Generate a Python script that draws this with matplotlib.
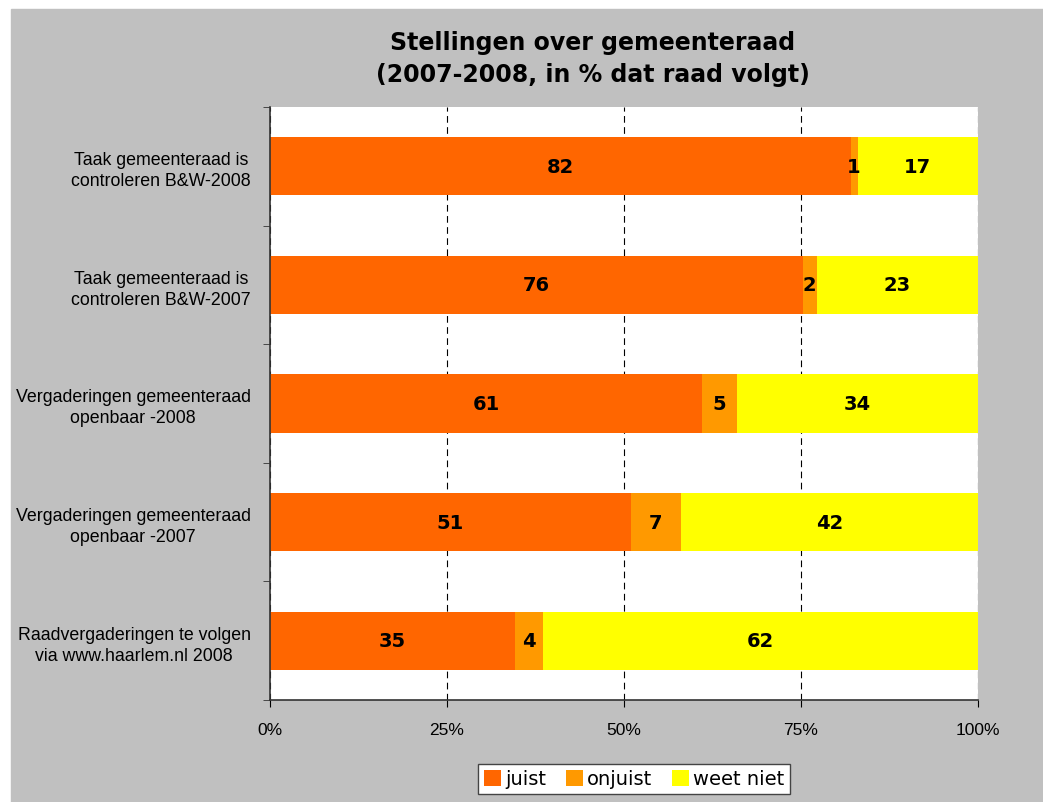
import matplotlib.pyplot as plt
import matplotlib.patches as mpatches
import matplotlib.ticker as ticker
import numpy as np

categories = [
    'Taak gemeenteraad is\ncontroleren B&W-2008',
    'Taak gemeenteraad is\ncontroleren B&W-2007',
    'Vergaderingen gemeenteraad\nopenbaar -2008',
    'Vergaderingen gemeenteraad\nopenbaar -2007',
    'Raadvergaderingen te volgen\nvia www.haarlem.nl 2008',
]
juist = [82, 76, 61, 51, 35]
onjuist = [1, 2, 5, 7, 4]
weet_niet = [17, 23, 34, 42, 62]

series = [('juist', juist, '#FF6600'),
          ('onjuist', onjuist, '#FF9900'),
          ('weet niet', weet_niet, '#FFFF00')]

gray = '#C0C0C0'

fig = plt.figure(figsize=(10.43, 8.03), dpi=100, facecolor='white')
# gray chart area (white strip on top and left as in the original)
fig.patches.append(mpatches.Rectangle((11 / 1043, 0), 1, 1 - 10 / 803,
                                      transform=fig.transFigure, color=gray, zorder=-5))

ax = fig.add_axes([270 / 1043, 1 - 701 / 803, (978 - 270) / 1043, (701 - 108) / 803])
ax.set_facecolor('white')

totals = np.array(juist) + np.array(onjuist) + np.array(weet_niet)
y = np.arange(len(categories))
left = np.zeros(len(categories))
handles = []
for name, vals, color in series:
    widths = np.array(vals) / totals * 100
    bars = ax.barh(y, widths, left=left, height=0.49, color=color, zorder=2, label=name)
    for i, v in enumerate(vals):
        ax.text(left[i] + widths[i] / 2, y[i], str(v), ha='center', va='center',
                fontsize=14, fontweight='bold', color='black', zorder=3)
    left += widths
    handles.append(bars)

ax.set_xlim(0, 100)
ax.set_ylim(len(categories) - 0.5, -0.5)
ax.xaxis.set_major_locator(ticker.MultipleLocator(25))
ax.xaxis.set_major_formatter(ticker.FuncFormatter(lambda v, p: f'{int(v)}%'))
ax.grid(axis='x', color='black', linestyle=(0, (6, 4)), linewidth=0.8, zorder=1)

ax.set_yticks(y)
ax.set_yticklabels(categories, fontsize=12.8, family='Liberation Sans',
                   multialignment='center', linespacing=1.3)
ax.set_yticks(np.arange(len(categories) + 1) - 0.5, minor=True)
ax.tick_params(axis='y', which='major', length=0, pad=14)
ax.tick_params(axis='y', which='minor', length=5, color='#333333')
ax.tick_params(axis='x', length=5, pad=11, labelsize=12.5)
for lbl in ax.get_xticklabels():
    lbl.set_family('Liberation Sans')

for side in ['top', 'right']:
    ax.spines[side].set_visible(False)
ax.spines['left'].set_color('#333333')
ax.spines['bottom'].set_color('#333333')
ax.spines['left'].set_linewidth(1.2)
ax.spines['bottom'].set_linewidth(1.2)

fig.text(593 / 1043, 1 - 59 / 803, 'Stellingen over gemeenteraad\n(2007-2008, in % dat raad volgt)',
         ha='center', va='center', fontsize=17, fontweight='bold', linespacing=1.45)

leg = fig.legend(handles=handles, loc='center', bbox_to_anchor=(634 / 1043, 1 - 780 / 803),
                 ncol=3, fontsize=14, frameon=True, fancybox=False, edgecolor='#444444',
                 facecolor='white', framealpha=1,
                 handlelength=0.9, handleheight=0.9, handletextpad=0.2, columnspacing=1.0,
                 borderpad=0.3)
leg.get_frame().set_linewidth(1.0)

fig.savefig('out.png', dpi=100, facecolor=fig.get_facecolor())
